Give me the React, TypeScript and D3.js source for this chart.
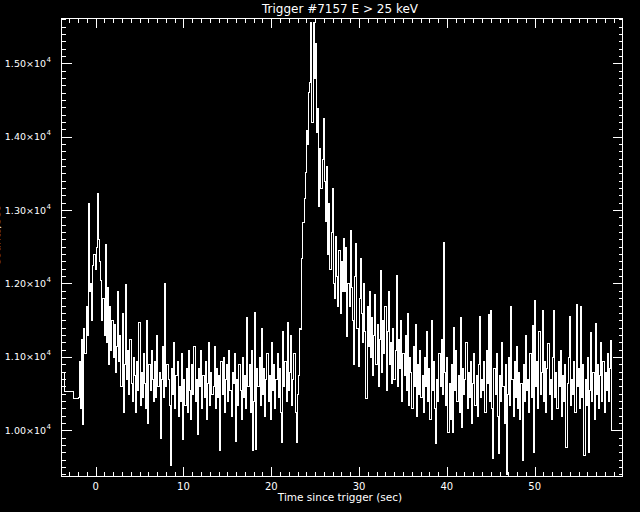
import React from "react";
import * as d3 from "d3";

// coarse 1.024 s bins before the fine data
const preTimes = [-3.95, -3.58, -2.56];
const preRates = [10800, 10530, 10440];

// fine bins start here
const fineStart = -2.048;
const binWidth = 0.128;

const rateA = [10450, 10950, 10300, 11250, 10080, 11400, 11050, 11700, 11300, 13100, 11900, 12000, 11500, 12250, 12400, 12200, 12500, 13230, 12600, 12300, 12050, 11500, 11800, 11300, 12540, 11200, 11950, 10900, 11700, 11100, 11500, 11000, 11450, 10800, 11150, 11900, 10950, 11300, 10600, 11600];
const rateB = [10250, 10900, 11990, 10700, 11100, 10500, 11250, 10650, 10400, 11000, 10750, 10250, 10950, 10550, 11480, 10350, 10800, 10450, 11050, 10650, 10300, 11500, 10100, 10900, 10550, 11100, 10700, 10400, 10950, 10450, 11300, 10600, 10800, 9900, 10700, 11150, 10450, 12000, 10600, 10900];
const rateC = [10700, 10350, 9530, 10850, 10500, 11200, 10300, 10750, 10950, 10200, 10600, 10400, 11050, 9880, 10700, 10350, 10850, 10250, 11100, 10550, 10150, 10900, 10500, 11150, 10400, 10700, 9950, 10850, 10600, 11100, 10300, 10750, 10450, 10950, 10150, 10650, 11200, 10350, 10800, 10500];
const rateD = [10600, 11150, 10300, 10850, 10450, 10750, 9730, 10950, 10500, 11000, 10250, 10700, 10900, 10400, 11100, 10550, 10200, 10800, 10650, 11050, 9850, 10700, 10350, 10900, 10550, 10150, 11000, 10450, 10750, 10300, 11550, 10600, 10900, 10250, 11100, 9730, 10400, 11615, 9750, 10850];
const rateE = [10600, 11000, 10350, 11400, 10500, 10850, 10200, 10700, 11050, 10400, 10750, 10150, 11200, 10550, 10900, 10300, 10700, 11050, 10450, 10850, 10250, 9840, 11350, 10600, 10950, 10400, 11480, 10550, 10800, 11300, 10350, 10700, 11050, 10250, 9840, 10500, 10750, 11400, 11380, 12350];
const rateF = [12840, 13160, 13520, 14090, 13900, 14610, 14740, 15560, 14200, 15560, 14800, 15280, 14070, 14390, 13050, 13850, 13300, 13700, 14250, 13400, 12850, 13600, 12400, 13100, 12200, 12700, 13300, 12000, 11800, 12650, 12100, 11700, 12450, 11600, 12300, 11900, 12620, 11900, 12500, 11290];
const rateG = [12000, 11700, 12730, 11950, 11500, 10900, 12100, 12550, 11400, 10870, 11800, 12350, 11600, 11200, 12000, 11350, 10440, 11700, 11150, 11900, 11000, 11550, 10750, 11300, 11850, 10900, 11450, 10600, 11250, 12190, 10800, 11500, 11050, 11700, 10550, 11350, 11900, 10900, 11200, 10650];
const rateH = [11400, 10700, 11100, 12120, 10600, 11250, 10850, 11500, 10400, 11050, 10750, 11300, 10550, 11600, 10350, 11000, 10800, 10300, 11150, 10600, 11450, 10190, 10900, 10500, 11100, 10450, 10750, 10250, 11000, 10600, 11350, 10400, 10850, 10150, 11500, 10550, 10950, 10300, 9830, 10700];
const rateI = [10400, 11050, 10600, 11250, 10500, 12570, 10800, 10350, 11000, 9970, 10650, 10150, 10900, 9980, 11410, 10550, 11100, 10400, 10750, 10250, 11550, 10040, 10850, 10500, 10700, 11200, 10300, 10800, 10450, 10950, 10100, 10650, 11050, 10350, 10750, 10200, 10900, 11560, 10450, 10700];
const rateJ = [10550, 10950, 10250, 11100, 10650, 11580, 10400, 11635, 10300, 9620, 10850, 10500, 11050, 10200, 9690, 10750, 10400, 11200, 10600, 10100, 10900, 9380, 10500, 11000, 10350, 11690, 10700, 10200, 10950, 10450, 11150, 10300, 10800, 10150, 10650, 9600, 10900, 10400, 11300, 10550];
const rateK = [10700, 10250, 11050, 10450, 11440, 9700, 11780, 10600, 10950, 10300, 11350, 10500, 10800, 11640, 10400, 10950, 10250, 10850, 11190, 10500, 10700, 10150, 11000, 11640, 10450, 10800, 10300, 10950, 10600, 11100, 10200, 10750, 10400, 10900, 9770, 10650, 11000, 11560, 10350, 10700];
const rateL = [10500, 10950, 10250, 11720, 10600, 10850, 10300, 11700, 10450, 10900, 9660, 10700, 10350, 11000, 9700, 10550, 11340, 10400, 10800, 10150, 11460, 10500, 10900, 10300, 10750, 11200, 10400, 10950, 10250, 10800, 10550, 11050, 10400, 10850, 11230];

// coarse bin after the fine data
const postRates = [10000];

const xTickValues = [0, 10, 20, 30, 40, 50];
const yTickValues = [10000, 11000, 12000, 13000, 14000, 15000];

const W = 640;
const H = 512;
const left = 61, right = 622, top = 17.5, bottom = 475;

export default function App() {
  const x = d3.scaleLinear().domain([-3.95, 59.95]).range([left, right]);
  const y = d3.scaleLinear().domain([9390, 15625]).range([bottom, top]);

  const fine = [...rateA, ...rateB, ...rateC, ...rateD, ...rateE, ...rateF, ...rateG, ...rateH, ...rateI, ...rateJ, ...rateK, ...rateL];
  const pts: [number, number][] = [];
  preTimes.forEach((t, i) => pts.push([t, preRates[i]]));
  fine.forEach((v, i) => pts.push([fineStart + i * binWidth, v]));
  const fineEnd = fineStart + fine.length * binWidth;
  pts.push([fineEnd, postRates[0]]);
  pts.push([59.95, postRates[0]]);

  const line = d3.line<[number, number]>()
    .x(d => Math.round(x(d[0])) + 0.5)
    .y(d => Math.round(y(d[1])) + 0.5)
    .curve(d3.curveStepAfter);

  const xMinor = d3.range(-3, 60, 1).filter(t => !xTickValues.includes(t));
  const yMinor = d3.range(9400, 15700, 100).filter(v => v <= 15625 && !yTickValues.includes(v));
  const px = (v: number) => Math.round(v) + 0.5;

  const font = "'DejaVu Sans', sans-serif";

  return (
    <svg width={W} height={H} style={{ position: "absolute", left: 0, top: 0, background: "#000", display: "block" }}>
      <rect x={0} y={0} width={W} height={H} fill="#000" />
      <defs>
        <clipPath id="plot">
          <rect x={left} y={top} width={right - left} height={bottom - top} />
        </clipPath>
      </defs>
      <g stroke="#fff" strokeWidth={1} shapeRendering="crispEdges" fill="none">
        <rect x={px(left)} y={px(top)} width={Math.round(right - left)} height={Math.round(bottom - top)} />
        {xTickValues.map(t => (
          <g key={"xt" + t}>
            <line x1={px(x(t))} x2={px(x(t))} y1={px(bottom)} y2={px(bottom) - 9} />
            <line x1={px(x(t))} x2={px(x(t))} y1={px(top)} y2={px(top) + 9} />
          </g>
        ))}
        {xMinor.map(t => (
          <g key={"xm" + t}>
            <line x1={px(x(t))} x2={px(x(t))} y1={px(bottom)} y2={px(bottom) - 4} />
            <line x1={px(x(t))} x2={px(x(t))} y1={px(top)} y2={px(top) + 4} />
          </g>
        ))}
        {yTickValues.map(v => (
          <g key={"yt" + v}>
            <line x1={px(left)} x2={px(left) + 10} y1={px(y(v))} y2={px(y(v))} />
            <line x1={px(right)} x2={px(right) - 10} y1={px(y(v))} y2={px(y(v))} />
          </g>
        ))}
        {yMinor.map(v => (
          <g key={"ym" + v}>
            <line x1={px(left)} x2={px(left) + 4} y1={px(y(v))} y2={px(y(v))} />
            <line x1={px(right)} x2={px(right) - 4} y1={px(y(v))} y2={px(y(v))} />
          </g>
        ))}
        <path d={line(pts) || ""} clipPath="url(#plot)" />
      </g>
      <g fill="#fff" fontFamily={font}>
        <text x={340} y={13} textAnchor="middle" fontSize={12}>Trigger #7157 E &gt; 25 keV</text>
        <text x={340} y={501} textAnchor="middle" fontSize={10.5}>Time since trigger (sec)</text>
        {xTickValues.map(t => (
          <text key={"xl" + t} x={x(t)} y={490} textAnchor="middle" fontSize={10}>{t}</text>
        ))}
        {yTickValues.map(v => (
          <text key={"yl" + v} x={51} y={y(v) + 3.5} textAnchor="end" fontSize={9.5}>
            {(v / 10000).toFixed(2) + "\u00d710"}
            <tspan fontSize={7} dx={0.5} dy={-5}>4</tspan>
          </text>
        ))}
        <text transform="translate(0,236) rotate(-90)" textAnchor="middle" fontSize={11}>Counts/sec</text>
      </g>
    </svg>
  );
}
